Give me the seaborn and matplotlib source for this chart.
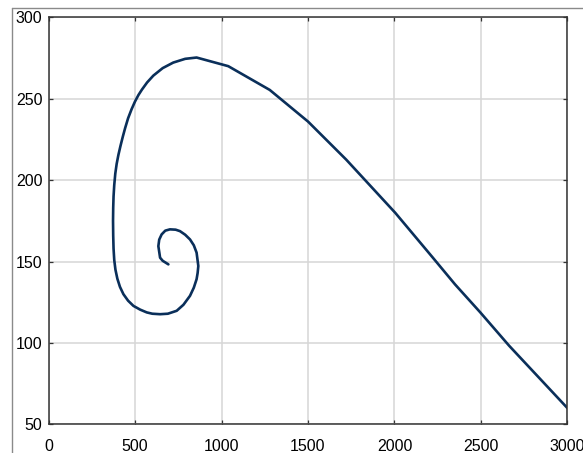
import seaborn as sns
import matplotlib.pyplot as plt
import matplotlib.lines as mlines
import pandas as pd

# points along the spiral (inner end -> outer end)
x_vals = [693, 660, 645, 635, 640, 654, 675, 702, 735, 760, 790, 818, 840, 856, 866,
          862, 856, 840, 818, 780, 741, 690, 645, 600, 568, 530, 491, 460, 433, 413,
          398, 387, 380, 376, 374, 373, 374, 376, 380, 386, 394, 404, 416, 429, 443,
          460, 480, 500, 520, 540, 570, 606, 660, 721, 790, 856, 1039, 1279, 1500, 1721,
          2004, 2221, 2350, 2496, 2663, 3000]
y_vals = [148.3, 150.5, 152.4, 159.5, 163.5, 166.7, 169.0, 169.8, 169.6, 168.7, 166.5,
          163.6, 160.0, 155.5, 147.3, 143.0, 139.2, 134.0, 129.0, 123.5, 119.8, 118.0,
          117.7, 118.0, 118.8, 120.5, 122.8, 126.0, 130.0, 134.5, 139.5, 145.0, 151.0,
          158.0, 166.0, 175.0, 183.0, 190.0, 197.0, 204.0, 210.0, 215.5, 221.0, 226.5,
          232.0, 238.0, 243.5, 248.3, 252.3, 255.6, 260.0, 264.2, 268.8, 272.2, 274.5,
          275.3, 270.0, 255.4, 236.0, 212.6, 180.0, 152.5, 136.0, 118.8, 98.3, 60.0]

x_ticks = [0, 500, 1000, 1500, 2000, 2500, 3000]
y_ticks = [50, 100, 150, 200, 250, 300]

df = pd.DataFrame({"x": x_vals, "y": y_vals})

sns.set_style("whitegrid")
plt.rcParams["font.family"] = ["Liberation Sans", "DejaVu Sans"]

fig = plt.figure(figsize=(5.83, 4.53), dpi=100)
ax = fig.add_axes([0.0832, 0.0630, 0.8902, 0.8988])

sns.lineplot(data=df, x="x", y="y", sort=False, estimator=None,
             color="#0a2f5a", linewidth=1.9, ax=ax)

ax.set_xlim(0, 3000)
ax.set_ylim(50, 300)
ax.set_xticks(x_ticks)
ax.set_yticks(y_ticks)
ax.set_xlabel("")
ax.set_ylabel("")
ax.grid(True, color="#d6d6d6", linewidth=1.1)
for s in ax.spines.values():
    s.set_visible(True)
    s.set_color("#333333")
    s.set_linewidth(1.1)
ax.tick_params(axis="both", direction="in", length=3, width=0.9, color="#333333",
               labelsize=11.5, labelcolor="black", top=True, right=True, left=True, bottom=True)
ax.tick_params(axis="x", pad=10.5)
ax.tick_params(axis="y", pad=4.5)

# outer frame of the screenshot
fig.add_artist(mlines.Line2D([11.5 / 583, 11.5 / 583], [0, 1 - 8 / 453],
                             transform=fig.transFigure, color="#8a8a8a", linewidth=1.0))
fig.add_artist(mlines.Line2D([11.5 / 583, 1], [1 - 8 / 453, 1 - 8 / 453],
                             transform=fig.transFigure, color="#8a8a8a", linewidth=1.0))

fig.savefig("out.png", dpi=100)
